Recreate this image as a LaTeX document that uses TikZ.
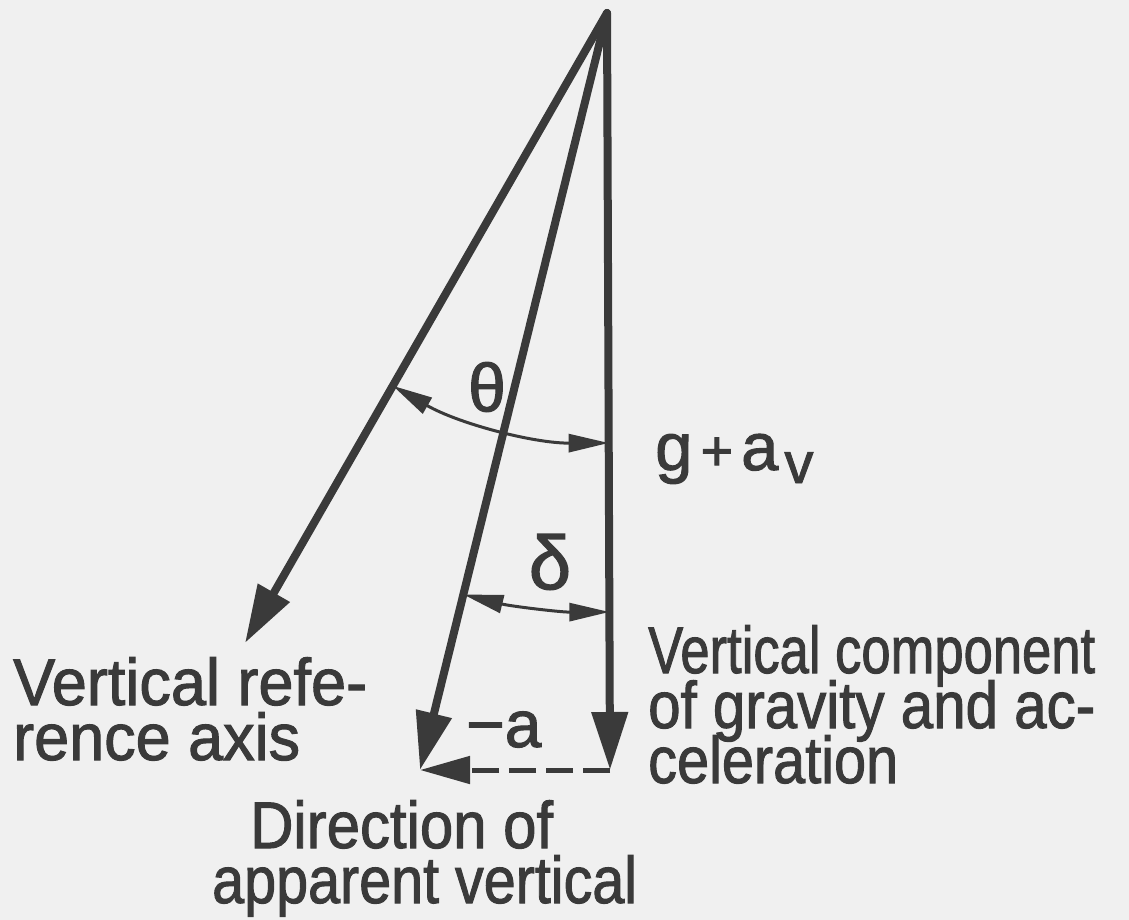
\documentclass[tikz,border=0pt]{standalone}
\usepackage{fontspec}
\setmainfont{Liberation Sans}[BoldFont={Liberation Sans},BoldFeatures={FakeBold=1.6}]
\usepackage{graphicx}
\usetikzlibrary{arrows.meta,calc}
\definecolor{ink}{RGB}{58,58,58}
\definecolor{paper}{RGB}{240,240,240}
\newcommand\fitw[2]{\resizebox{#1pt}{\height}{#2}}
\newcommand\stacklines[1]{\vtop{\baselineskip=55pt\lineskiplimit=-1000pt\lineskip=0pt
  \halign{##\hfil\cr#1\crcr}}}
\begin{document}
\begin{tikzpicture}[x=1pt,y=1pt,
  axisline/.style={draw=ink, line width=8pt, line cap=round,
    -{Triangle[length=58pt,width=35pt]}},
  arcline/.style={draw=ink, line width=3pt,
    {Triangle[length=40pt,width=18pt]}-{Triangle[length=40pt,width=18pt]}},
  dashline/.style={draw=ink, line width=5pt, dash pattern=on 27pt off 10pt,
    -{Triangle[length=50pt,width=27pt]}},
  lbl/.style={font=\fontsize{66}{55}\selectfont\bfseries, text=ink, inner sep=0pt, anchor=base west},
  sym/.style={text=ink, inner sep=0pt}]
\fill[paper] (0,-920) rectangle (1129,0);
\useasboundingbox (0,-920) rectangle (1129,0);
% key points
\coordinate (O) at (607,-13);
\coordinate (R) at (245,-643);
\coordinate (A) at (420,-770);
\coordinate (G) at (610,-770);
% main vectors
\draw[axisline] (O) -- (R);
\draw[axisline] (O) -- (A);
\draw[axisline] (O) -- (G);
\draw[dashline] (G) -- (A);
% angle theta
\draw[arcline] let \p1=($(R)-(O)$), \p2=($(G)-(O)$),
  \n1={atan2(\y1,\x1)}, \n2={atan2(\y2,\x2)} in
  ($(O)!430pt!(R)$) arc[start angle=\n1, end angle=\n2, radius=430pt];
% angle delta
\draw[arcline] let \p1=($(A)-(O)$), \p2=($(G)-(O)$),
  \n1={atan2(\y1,\x1)}, \n2={atan2(\y2,\x2)} in
  ($(O)!599pt!(A)$) arc[start angle=\n1, end angle=\n2, radius=599pt];
% symbols
\node[sym, font=\fontsize{68}{68}\selectfont\bfseries] (th) at (487,-387) {θ};
\node[sym, font=\fontsize{76}{76}\selectfont\bfseries] (de) at (550,-562) {δ};
\node[sym, anchor=base west, font=\fontsize{67}{67}\selectfont\bfseries] (gav) at (655,-470)
  {g\kern8pt{\fontsize{56}{56}\selectfont+}\kern8pt a\kern6pt\raisebox{-13pt}{\fontsize{58}{58}\selectfont v}};
\node[sym, anchor=base west, font=\fontsize{66}{66}\selectfont\bfseries] (ma) at (466,-747) {−a};
% labels
\node[lbl] (ref) at (13,-705)
  {\stacklines{\fitw{354}{Vertical refe-}\cr\fitw{287}{rence axis}}};
\node[lbl] (com) at (648,-673)
  {\stacklines{\fitw{447}{Vertical component}\cr\fitw{447}{of gravity and ac-}\cr\fitw{250}{celeration}}};
\node[lbl] (dir) at (212,-848)
  {\stacklines{\kern38pt\fitw{303}{Direction of}\cr\fitw{425}{apparent vertical}}};
\end{tikzpicture}
\end{document}
